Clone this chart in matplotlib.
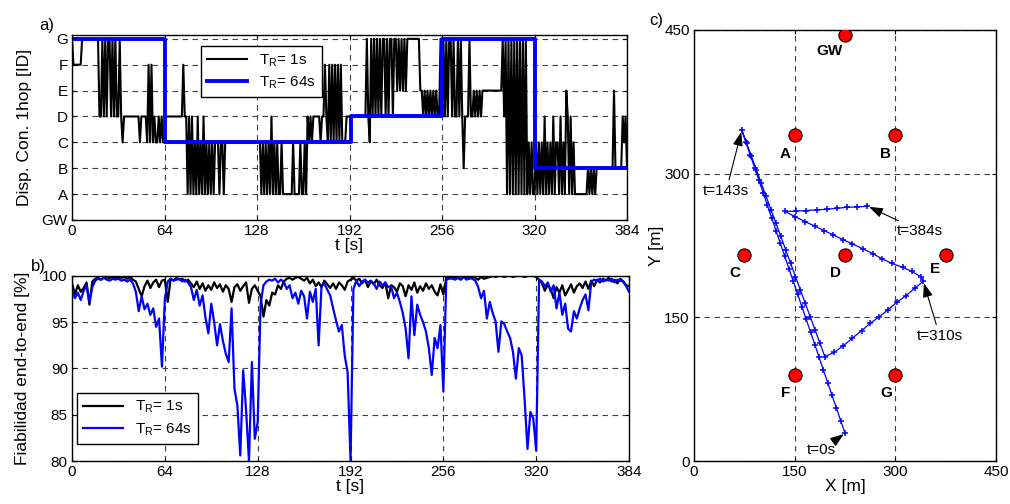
import numpy as np
import matplotlib
matplotlib.use('Agg')
import matplotlib.pyplot as plt

plt.rcParams['font.family'] = ['Liberation Sans', 'DejaVu Sans']
plt.rcParams['font.size'] = 11
plt.rcParams['mathtext.fontset'] = 'custom'
plt.rcParams['mathtext.rm'] = 'Liberation Sans'
plt.rcParams['mathtext.it'] = 'Liberation Sans:italic'

#%% data
t_ticks = [0, 64, 128, 192, 256, 320, 384]
node_levels = ['GW', 'A', 'B', 'C', 'D', 'E', 'F', 'G']

# a) connected 1-hop node per second (0=GW ... 7=G), T_R = 1s
hop_1s = ("7666666777777777" "7774474747747474" "4743444444444443" "4444363634334343"
          "3444444444444644" "1414131413141313" "1313331331333333" "3333333333333333"
          "3331313131413131" "1311111113111131" "1314343444443446" "4363636363633344"
          "4444444444447437" "4747474774747747" "7575757577777777" "7554545454545447"
          "7747477474474742" "4447445454545555" "5555555555747171" "7171717171713131"
          "1313131413131413" "3141315414131111" "1111121212122222" "2222222522222434" "2")
hop_1s = [int(c) for c in hop_1s]
# T_R = 64s
hop64_t = [0, 64, 193, 256, 320, 384]
hop64_lvl = [7, 3, 4, 7, 2, 2]

# b) end-to-end reliability [%], every 2 s
rel_t = np.arange(0, 385, 2)
rel_1s = [99.2, 98.0, 99.0, 98.3, 98.7, 99.3, 96.9, 99.4, 99.7, 99.8, 99.6, 99.9, 99.7, 99.8, 99.9, 99.8,
          99.9, 99.8, 99.9, 99.7, 99.9, 99.6, 99.4, 98.6, 97.8, 98.9, 99.5, 98.7, 99.3, 99.6, 98.8, 99.5,
          99.6, 97.2, 99.7, 99.5, 99.8, 99.6, 99.7, 99.4, 99.6, 99.2, 98.8, 99.4, 98.6, 99.2, 98.4, 99.0,
          98.5, 99.3, 98.7, 99.1, 98.3, 99.0, 98.6, 97.2, 98.8, 99.1, 98.4, 98.9, 99.3, 97.1, 98.6, 99.0,
          98.4, 97.8, 95.6, 97.4, 96.8, 98.2, 98.0, 99.0, 98.6, 99.4, 99.7, 99.8, 99.6, 99.8, 99.9, 99.7,
          99.5, 99.8, 99.2, 99.6, 98.9, 99.3, 98.8, 99.5, 99.1, 98.7, 99.2, 98.6, 99.3, 99.0, 98.5, 99.4,
          99.6, 99.8, 99.5, 99.7, 99.2, 99.6, 98.8, 99.4, 99.1, 99.6, 99.0, 98.7, 99.3, 97.6, 99.0, 98.8,
          98.3, 99.2, 98.9, 97.8, 99.0, 98.5, 99.3, 98.2, 98.9, 98.4, 99.2, 98.6, 99.0, 98.3, 97.9, 99.1,
          98.0, 99.8, 99.9, 99.7, 99.9, 99.8, 99.6, 99.9, 99.8, 99.7, 99.9, 99.8, 99.6, 99.9, 99.7, 99.8,
          99.9, 100.0, 99.9, 100.0, 100.0, 99.9, 100.0, 100.0, 99.9, 100.0, 100.0, 100.0, 99.9, 100.0, 100.0, 100.0,
          99.9, 99.6, 99.2, 98.4, 99.1, 98.6, 97.6, 98.8, 98.2, 99.0, 97.9, 98.5, 99.1, 98.2, 98.9, 99.2,
          98.7, 99.4, 98.6, 99.5, 98.9, 99.6, 99.3, 99.7, 99.5, 99.8, 99.4, 99.6, 99.2, 99.7, 99.4, 99.0,
          98.9]
rel_64s = [98.6, 97.6, 98.2, 97.4, 98.4, 99.0, 97.2, 98.8, 99.5, 99.7, 99.6, 99.8, 99.6, 99.5, 99.7, 99.6,
           99.7, 99.5, 99.6, 99.4, 99.6, 99.2, 98.3, 96.2, 97.8, 96.4, 97.0, 95.8, 96.5, 94.5, 95.4, 90.2,
           97.5, 99.4, 99.7, 99.5, 99.6, 99.7, 99.4, 99.6, 99.3, 98.8, 97.4, 98.5, 96.8, 97.9, 95.5, 93.8,
           97.0, 95.0, 92.5, 94.8, 93.0, 91.6, 90.7, 96.5, 87.8, 86.0, 80.6, 89.8, 85.5, 80.0, 90.7, 82.4,
           84.2, 97.0, 99.0, 99.4, 99.6, 99.5, 99.7, 99.3, 99.6, 99.4, 98.6, 99.0, 97.6, 98.2, 97.0, 98.4,
           97.8, 95.4, 98.3, 97.2, 98.6, 92.5, 98.9, 99.2, 98.5, 97.9, 96.5, 95.2, 94.0, 94.7, 91.4, 89.6,
           80.0, 98.6, 99.5, 98.9, 99.4, 99.6, 99.3, 99.5, 99.2, 98.6, 99.4, 99.0, 99.3, 98.8, 98.9, 97.6,
           98.2, 97.2, 96.0, 94.3, 91.1, 97.8, 93.6, 96.9, 95.8, 95.0, 94.0, 92.2, 89.3, 93.3, 92.2, 94.7,
           87.5, 99.6, 99.7, 99.8, 99.6, 99.8, 99.7, 99.9, 99.6, 99.8, 99.7, 99.5, 98.8, 97.6, 98.4, 95.4,
           97.2, 96.0, 95.1, 91.8, 95.1, 94.8, 94.0, 93.3, 91.8, 88.9, 92.2, 91.4, 86.7, 81.3, 85.3, 84.6,
           81.1, 99.6, 99.4, 98.9, 99.3, 98.3, 99.0, 96.5, 98.2, 95.8, 97.0, 94.3, 94.0, 96.2, 95.4, 96.5,
           97.4, 98.0, 96.3, 99.4, 99.6, 99.5, 99.7, 99.4, 99.6, 99.5, 99.7, 99.3, 99.6, 99.5, 99.4, 98.9,
           98.3]

# c) node positions [m]
node_names = ['GW', 'A', 'B', 'C', 'D', 'E', 'F', 'G']
node_x = [225, 150, 300, 75, 225, 375, 150, 300]
node_y = [445, 340, 340, 215, 215, 215, 90, 90]

# c) mobile trajectory samples [m]
traj_x = [225.0, 218.6, 212.2, 205.7, 199.3, 192.9, 186.5, 180.1, 173.7, 167.2, 160.8, 154.4, 148.0,
          141.6, 135.2, 128.8, 122.3, 115.9, 109.5, 103.1, 96.7, 90.3, 83.8, 77.4, 71.0,
          78.3, 85.6, 92.9, 100.2, 107.5, 114.8, 122.1, 129.4, 136.6, 143.9, 151.2, 158.5, 165.8,
          173.1, 180.4, 187.7, 195.0,
          208.6, 222.5, 235.9, 249.9, 262.2, 276.1, 288.6, 302.0, 315.9, 329.3, 341.7,
          337.8, 324.4, 311.0, 294.6, 280.6, 267.2, 252.3, 235.9, 221.6, 207.6, 193.7, 180.3,
          165.4, 150.5, 135.6,
          152.0, 166.9, 182.8, 197.7, 213.5, 228.4, 243.4, 258.3]
traj_y = [29.0, 42.2, 55.4, 68.6, 81.8, 95.0, 108.3, 121.5, 134.7, 147.9, 161.1, 174.3, 187.5,
          200.7, 213.9, 227.1, 240.3, 253.5, 266.8, 280.0, 293.2, 306.4, 319.6, 332.8, 346.0,
          332.1, 318.1, 304.2, 290.2, 276.3, 262.4, 248.4, 234.5, 220.5, 206.6, 192.6, 178.7, 164.8,
          150.8, 136.9, 122.9, 109.0,
          113.3, 120.3, 128.3, 136.0, 143.6, 150.6, 157.6, 165.6, 172.6, 180.6, 187.6,
          192.5, 198.0, 202.2, 206.4, 211.0, 216.2, 221.4, 226.7, 231.2, 236.1, 240.6, 245.1,
          250.0, 255.2, 260.5,
          260.8, 261.5, 262.2, 262.8, 263.9, 264.9, 265.3, 266.0]

#%% figure
fig = plt.figure(figsize=(10.1, 5.04), dpi=100)
grid_kw = dict(linestyle=(0, (5, 4)), color='0.25', linewidth=0.8)
lab_r1 = r'T$_\mathrm{R}$= 1s'
lab_r64 = r'T$_\mathrm{R}$= 64s'
leg_kw = dict(fancybox=False, framealpha=1, edgecolor='k', fontsize=11,
              handlelength=2.6, borderaxespad=0, labelspacing=0.4)

def style_axes(ax):
    ax.tick_params(direction='in', length=3, top=True, right=True, labelsize=11, pad=3)
    for s in ax.spines.values():
        s.set_linewidth(1.0)
    ax.set_axisbelow(True)

#%% a)
ax1 = fig.add_axes([0.0713, 0.5635, 0.5495, 0.3671])
ax1.plot(np.arange(len(hop_1s)), hop_1s, color='k', lw=1.5, label=lab_r1)
ax1.step(hop64_t, hop64_lvl, where='post', color='#0000ff', lw=2.8, label=lab_r64)
ax1.set_xlim(0, 384)
ax1.set_ylim(0, 7.15)
ax1.set_xticks(t_ticks)
ax1.set_yticks(range(8))
ax1.set_yticklabels(node_levels)
ax1.grid(True, **grid_kw)
ax1.set_xlabel('t [s]', fontsize=12.5, labelpad=0)
ax1.set_ylabel('Disp. Con. 1hop [ID]', fontsize=12.5, labelpad=7)
style_axes(ax1)
ax1.legend(loc='upper left', bbox_to_anchor=(0.232, 0.94), **leg_kw)

#%% b)
ax2 = fig.add_axes([0.0713, 0.0853, 0.5515, 0.3671])
ax2.plot(rel_t, rel_1s, color='k', lw=1.6, label=lab_r1)
ax2.plot(rel_t, rel_64s, color='#0000ff', lw=1.6, label=lab_r64)
ax2.set_xlim(0, 384)
ax2.set_ylim(80, 100)
ax2.set_xticks(t_ticks)
ax2.set_yticks([80, 85, 90, 95, 100])
ax2.grid(True, **grid_kw)
ax2.set_xlabel('t [s]', fontsize=12.5, labelpad=0)
ax2.set_ylabel('Fiabilidad end-to-end [%]', fontsize=12.5, labelpad=9)
style_axes(ax2)
ax2.legend(loc='lower left', bbox_to_anchor=(0.0095, 0.092), **leg_kw)

#%% c)
ax3 = fig.add_axes([0.6871, 0.0853, 0.299, 0.8552])
ax3.plot(traj_x, traj_y, color='#0000ff', lw=0.9, marker='+', ms=4.5, mew=1.1)
ax3.plot(node_x, node_y, 'o', ms=9.5, mfc='#ff0000', mec='k', mew=0.8, zorder=5)
for n, x, y in zip(node_names, node_x, node_y):
    dx, dy = (-23, -17) if n == 'GW' else ((-16, -15) if n == 'E' else (-14, -19))
    ax3.text(x + dx, y + dy, n, ha='center', va='center', fontsize=11, fontweight='bold')
arr = dict(arrowstyle='-|>,head_length=0.7,head_width=0.25', color='k', lw=0.8,
           mutation_scale=12, shrinkA=1, shrinkB=1)
ax3.annotate('t=143s', xy=(71, 345), xytext=(48, 282), ha='center', va='center', fontsize=11, arrowprops=arr)
ax3.annotate('t=384s', xy=(259, 266), xytext=(337, 240), ha='center', va='center', fontsize=11, arrowprops=arr)
ax3.annotate('t=310s', xy=(342, 187), xytext=(366, 131), ha='center', va='center', fontsize=11, arrowprops=arr)
ax3.annotate('t=0s', xy=(225, 29), xytext=(190, 11), ha='center', va='center', fontsize=11, arrowprops=arr)
ax3.set_xlim(0, 450)
ax3.set_ylim(0, 450)
ax3.set_xticks([0, 150, 300, 450])
ax3.set_yticks([0, 150, 300, 450])
ax3.grid(True, **grid_kw)
ax3.set_xlabel('X [m]', fontsize=12.5, labelpad=0)
ax3.set_ylabel('Y [m]', fontsize=12.5, labelpad=0)
style_axes(ax3)

#%% panel letters
fig.text(0.0465, 0.950, 'a)', ha='center', va='center', fontsize=12)
fig.text(0.0376, 0.472, 'b)', ha='center', va='center', fontsize=12)
fig.text(0.650, 0.960, 'c)', ha='center', va='center', fontsize=12)

fig.savefig('out.png', dpi=100)
